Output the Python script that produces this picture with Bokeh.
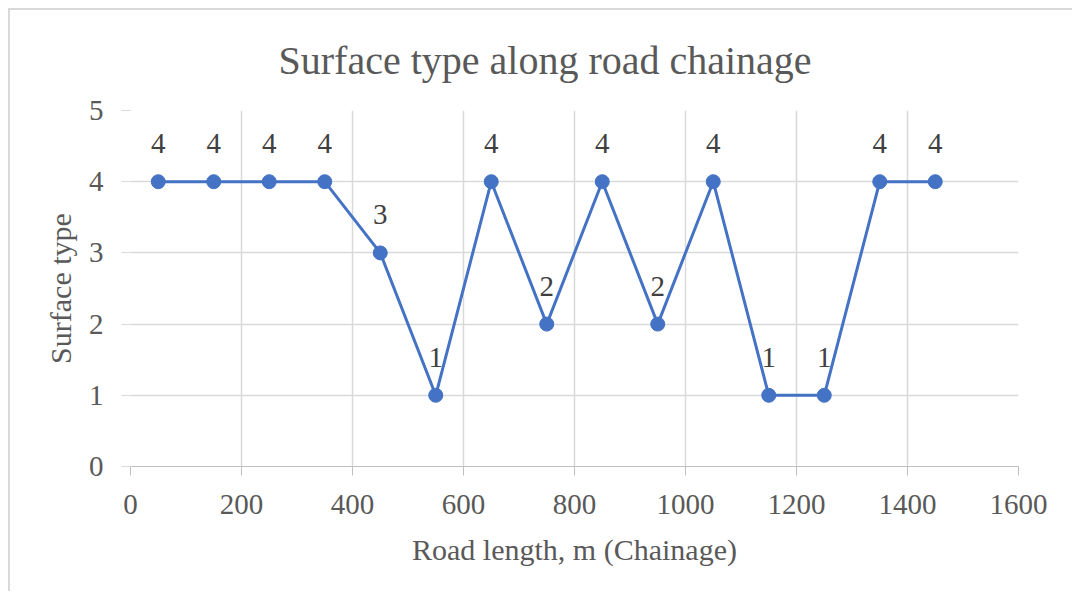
from bokeh.plotting import figure
from bokeh.models import ColumnDataSource, Range1d, FixedTicker
from bokeh.core.properties import value
from bokeh.embed import file_html
from bokeh.resources import INLINE

chainage = [50, 150, 250, 350, 450, 550, 650, 750, 850, 950, 1050, 1150, 1250, 1350, 1450]
surface_type = [4, 4, 4, 4, 3, 1, 4, 2, 4, 2, 4, 1, 1, 4, 4]
x_ticks = [0, 200, 400, 600, 800, 1000, 1200, 1400, 1600]
y_ticks = [0, 1, 2, 3, 4, 5]
title_text = "Surface type along road chainage"

FONT = "Liberation Serif"
GRID = "#d9d9d9"
TXT = "#595959"
BLUE = "#4472C4"

src = ColumnDataSource(dict(x=chainage, y=surface_type, lbl=[str(v) for v in surface_type]))

p = figure(width=1064, height=583, output_backend="svg", toolbar_location=None,
           x_range=Range1d(0, 1600), y_range=Range1d(0, 5),
           min_border_left=120, min_border_right=56, min_border_top=100, min_border_bottom=127,
           title=title_text)
p.styles = {"border-top": "2px solid #d9d9d9", "border-left": "2px solid #d9d9d9",
            "margin-left": "8px", "margin-top": "8px"}

p.title.align = "left"
p.title.offset = 148
p.title.vertical_align = "top"
p.title.standoff = 52
p.title.text_font = FONT
p.title.text_font_size = "40px"
p.title.text_font_style = "normal"
p.title.text_color = TXT

p.outline_line_color = None
p.background_fill_color = "white"
p.border_fill_color = "white"

for ax in (p.xaxis[0], p.yaxis[0]):
    ax.major_label_text_font = FONT
    ax.major_label_text_font_size = "29px"
    ax.major_label_text_color = TXT
    ax.axis_label_text_font = FONT
    ax.axis_label_text_font_size = "30px"
    ax.axis_label_text_font_style = "normal"
    ax.axis_label_text_color = TXT
    ax.minor_tick_line_color = None
    ax.major_tick_in = 0
    ax.major_tick_out = 9
    ax.major_tick_line_color = "#bfbfbf"
    ax.major_tick_line_width = 1

p.xaxis.ticker = FixedTicker(ticks=x_ticks)
p.yaxis.ticker = FixedTicker(ticks=y_ticks)
p.xaxis.axis_label = "Road length, m (Chainage)"
p.yaxis.axis_label = "Surface type"
p.xaxis.axis_line_color = "#bfbfbf"
p.yaxis.axis_line_color = None
p.yaxis.major_tick_line_color = GRID
p.xaxis.major_label_standoff = 19
p.yaxis.major_label_standoff = 18
p.xaxis.axis_label_standoff = 16
p.yaxis.axis_label_standoff = 9

p.xgrid.grid_line_color = GRID
p.ygrid.grid_line_color = GRID
p.xgrid.grid_line_width = 1.5
p.ygrid.grid_line_width = 1.5

p.line("x", "y", source=src, line_color=BLUE, line_width=3)
p.scatter("x", "y", source=src, size=14, fill_color=BLUE, line_color=BLUE)
p.text("x", "y", text="lbl", source=src, text_font=value(FONT), text_font_size="29px",
       text_color="#404040", text_align="center", text_baseline="alphabetic", y_offset=-38)

open("out.html", "w").write(file_html(p, INLINE))
